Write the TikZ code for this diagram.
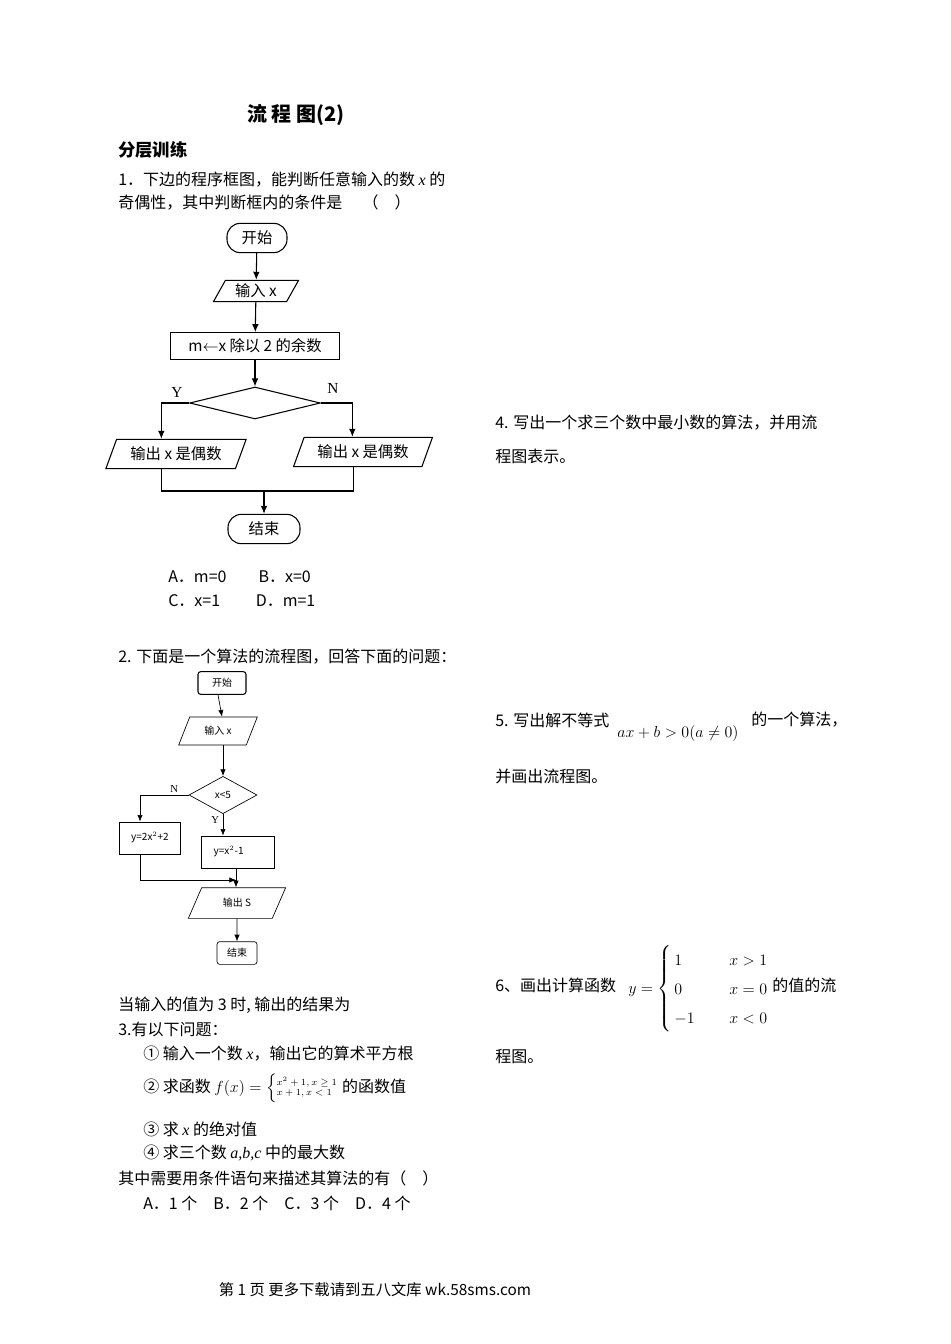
\documentclass[tikz,border=0pt]{standalone}
\usepackage{amsmath}
\usepackage{fontspec}
\setmainfont{Liberation Serif}
\newfontfamily\cjk{Noto Sans CJK SC}
\usetikzlibrary{shapes.geometric,arrows.meta}
\begin{document}
\begin{tikzpicture}[x=0.75pt,y=-0.75pt,
  txt/.style={anchor=west,inner sep=0,font=\cjk\fontsize{12}{14}\selectfont},
  arr/.style={-{Latex[length=6pt,width=5pt]},line width=0.8pt},
  ln/.style={line width=0.8pt},
  term/.style={draw,line width=0.8pt,rounded corners=10pt,font=\cjk\fontsize{11.5}{13}\selectfont,inner sep=0},
  para/.style={draw,line width=0.8pt,trapezium,trapezium left angle=60,trapezium right angle=120,trapezium stretches=true,inner sep=0,font=\cjk\fontsize{11.5}{13}\selectfont},
  box/.style={draw,line width=0.8pt,inner sep=0,font=\cjk\fontsize{11.5}{13}\selectfont},
  dia/.style={draw,line width=0.8pt,diamond,inner sep=0},
  sm/.style={font=\cjk\fontsize{7.5}{9}\selectfont},
  arr2/.style={-{Latex[length=5pt,width=4pt]},line width=0.5pt},
  ln2/.style={line width=0.5pt}]
\useasboundingbox (0,0) rectangle (950,1344);
% header
\node[anchor=center,inner sep=0,font=\cjk\bfseries\fontsize{15}{17}\selectfont] (title) at (296,115) {流 程 图(2)};
\node[txt,font=\cjk\bfseries\fontsize{13}{15}\selectfont] (sub) at (118,150) {分层训练};
\node[txt] (q1a) at (118,180) {1．下边的程序框图，能判断任意输入的数 \textit{\rmfamily x} 的};
\node[txt] (q1b) at (118,203) {奇偶性，其中判断框内的条件是\quad\;（\quad）};
% flowchart 1
\node[term,minimum width=45pt,minimum height=22pt] (s1) at (257,238) {开始};
\node[para,minimum width=64pt,minimum height=16pt] (in1) at (256,291) {输入 x};
\node[box,minimum width=127pt,minimum height=20pt] (m1) at (255,346) {m$\leftarrow$x 除以 2 的余数};
\node[dia,minimum width=98pt,minimum height=24pt] (d1) at (255,403) {};
\node[para,minimum width=106pt,minimum height=22pt] (o1) at (176,454) {输出 x 是偶数};
\node[para,minimum width=105pt,minimum height=22pt] (o2) at (363,452) {输出 x 是偶数};
\node[term,minimum width=54pt,minimum height=22pt] (e1) at (264,529) {结束};
\node[txt,font=\rmfamily\fontsize{11.5}{13}\selectfont] (ly) at (171,392) {Y};
\node[txt,font=\rmfamily\fontsize{11.5}{13}\selectfont] (ln) at (327,388) {N};
\draw[arr] (s1) -- (in1);
\draw[arr] (in1) -- (m1);
\draw[arr] (m1) -- (d1);
\draw[arr] (d1.west) -| ([xshift=-11pt]o1.north);
\draw[arr] (d1.east) -| ([xshift=-8pt]o2.north);
\coordinate (j1) at (264,491);
\draw[ln] ([xshift=-11pt]o1.south) |- (j1) -| ([xshift=-7pt]o2.south);
\draw[arr] (j1) -- (e1);
\node[txt] (a1) at (168,577) {A．m=0\qquad B．x=0};
\node[txt] (a2) at (168,601) {C．x=1\qquad\ D．m=1};
% Q2
\node[txt] (q2) at (118,657) {2. 下面是一个算法的流程图，回答下面的问题：};
\node[box,sm,rounded corners=2pt,minimum width=36pt,minimum height=17pt] (s2) at (222,683) {开始};
\node[para,sm,line width=0.5pt,minimum width=59pt,minimum height=21pt] (in2) at (218,731) {输入 x};
\node[dia,sm,line width=0.5pt,minimum width=51pt,minimum height=28pt] (d2) at (223,795) {x<5};
\node[box,sm,line width=0.5pt,minimum width=46pt,minimum height=24pt] (b1) at (150,838) {y=2x$^2$+2};
\node[box,sm,line width=0.5pt,minimum width=55pt,minimum height=24pt,align=left] (b2) at (238,852) {y=x$^2$-1\hspace{14pt}};
\node[para,sm,line width=0.5pt,minimum width=73pt,minimum height=23pt] (o3) at (237,903) {输出 S};
\node[box,sm,line width=0.5pt,rounded corners=2pt,minimum width=30pt,minimum height=17pt] (e2) at (237,953) {结束};
\node[txt,font=\rmfamily\fontsize{8}{9}\selectfont] (nn) at (170,789) {N};
\node[txt,font=\rmfamily\fontsize{8}{9}\selectfont] (yy) at (211,820) {Y};
\draw[arr2] (s2.south -| in2.north) -- (in2.north -| s2.south);
\draw[arr2] (in2.south -| d2.north) -- (d2.north);
\draw[arr2] (d2.west) -| ([xshift=-7.5pt]b1.north);
\draw[arr2] (d2.south) -- (d2.south |- b2.north);
\coordinate (j2) at (236,880);
\draw[ln2] ([xshift=-7.5pt]b1.south) |- (j2);
\draw[arr2] (j2) ++(-20,0) -- (j2);
\draw[arr2] (b2.south -| j2) -- (o3.north -| j2);
\draw[arr2] (o3.south) -- (e2.north);
\node[txt] (t1) at (118,1005) {当输入的值为 3 时, 输出的结果为};
\node[txt] (t2) at (118,1029) {3.有以下问题：};
\node[txt] (t3) at (143,1054) {① 输入一个数 \textit{\rmfamily x}，输出它的算术平方根};
\node[txt] (t4) at (143,1088) {② 求函数 $f(x)=\left\{\scriptsize\begin{array}{@{}l@{}}x^2+1,x\geq1\\ x+1,x<1\end{array}\right.$ 的函数值};
\node[txt] (t5) at (143,1129) {③ 求 \textit{\rmfamily x} 的绝对值};
\node[txt] (t6) at (143,1153) {④ 求三个数 \textit{\rmfamily a,b,c} 中的最大数};
\node[txt] (t7) at (118,1178) {其中需要用条件语句来描述其算法的有（\quad）};
\node[txt] (t8) at (143,1203) {A．1 个\quad B．2 个\quad C．3 个\quad D．4 个};
% right column
\node[txt] (r1) at (495,423) {4. 写出一个求三个数中最小数的算法，并用流};
\node[txt] (r2) at (495,456) {程图表示。};
\node[txt] (r3) at (495,720) {5. 写出解不等式};
\node[txt,font=\fontsize{13}{15}\selectfont] (r3m) at (617,733) {$ax+b>0(a\neq0)$};
\node[txt] (r3b) at (751,720) {的一个算法，};
\node[txt] (r4) at (495,776) {并画出流程图。};
\node[txt] (r5) at (495,985) {6、画出计算函数};
\node[txt,font=\fontsize{13}{15}\selectfont] (r5m) at (628,989) {$y=\left\{\renewcommand{\arraystretch}{1.45}\begin{array}{@{\,}l@{\qquad}l@{}}1 & x>1\\ 0 & x=0\\ -1 & x<0\end{array}\right.$};
\node[txt] (r5b) at (772,985) {的值的流};
\node[txt] (r6) at (495,1057) {程图。};
\node[anchor=center,inner sep=0,font=\cjk\fontsize{11.5}{13}\selectfont] (foot) at (375,1290) {第 1 页 更多下载请到五八文库 wk.58sms.com};
\end{tikzpicture}
\end{document}
